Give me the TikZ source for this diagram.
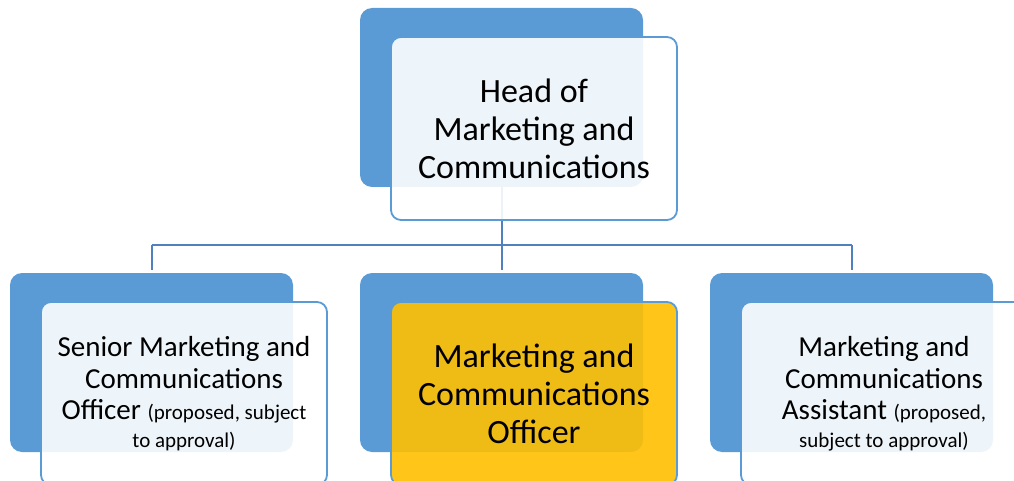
\documentclass[tikz,border=0pt]{standalone}
\usepackage{fontspec}
\setmainfont{Carlito}
\definecolor{backblue}{HTML}{5B9BD5}
\definecolor{linkblue}{HTML}{4F81BD}
\definecolor{gold}{HTML}{FFC000}
\newcommand{\note}[1]{{\fontsize{21}{25}\selectfont #1}}
\begin{document}
\begin{tikzpicture}[x=1pt,y=-1pt,
  backbox/.style={rectangle, rounded corners=12pt, fill=backblue, draw=none,
    minimum width=283pt, minimum height=179pt, inner sep=0pt, outer sep=0pt},
  frontbox/.style={rectangle, rounded corners=10pt, draw=backblue, line width=1.8pt,
    fill=white, fill opacity=0.9, text opacity=1,
    minimum width=286pt, minimum height=183pt, inner sep=0pt, outer sep=0pt,
    align=center, text=black},
  bigtext/.style={font=\fontsize{34}{38}\selectfont},
  midtext/.style={font=\fontsize{29}{31.5}\selectfont},
  conn/.style={draw=linkblue, line width=2pt}
]
\useasboundingbox (0,0) rectangle (1014,481);

% back panels
\node[backbox] (hb) at (501.5,97.5) {};
\node[backbox] (sb) at (151.5,362.5) {};
\node[backbox] (mb) at (501.5,362.5) {};
\node[backbox] (ab) at (851.5,362.5) {};

% connectors
\coordinate (bus) at (0,245);
\draw[conn] (hb.south) -- (hb.south |- bus);
\draw[conn, shorten >=3pt] (sb.north |- bus) -- (sb.north);
\draw[conn] (sb.north |- bus) -- (ab.north |- bus);
\draw[conn, shorten >=3pt] (mb.north |- bus) -- (mb.north);
\draw[conn, shorten >=3pt] (ab.north |- bus) -- (ab.north);

% front panels
\node[frontbox, bigtext] (hf) at (534,128.5) {Head of\\Marketing and\\Communications};
\node[frontbox, midtext] (sf) at (184,393.5)
  {Senior Marketing and\\Communications\\Officer \note{(proposed, subject}\\[-4pt]\note{to approval)}};
\node[frontbox, bigtext, fill=gold] (mf) at (534,393.5) {Marketing and\\Communications\\Officer};
\node[frontbox, midtext] (af) at (884,393.5)
  {Marketing and\\Communications\\Assistant \note{(proposed,}\\[-4pt]\note{subject to approval)}};
\end{tikzpicture}
\end{document}
